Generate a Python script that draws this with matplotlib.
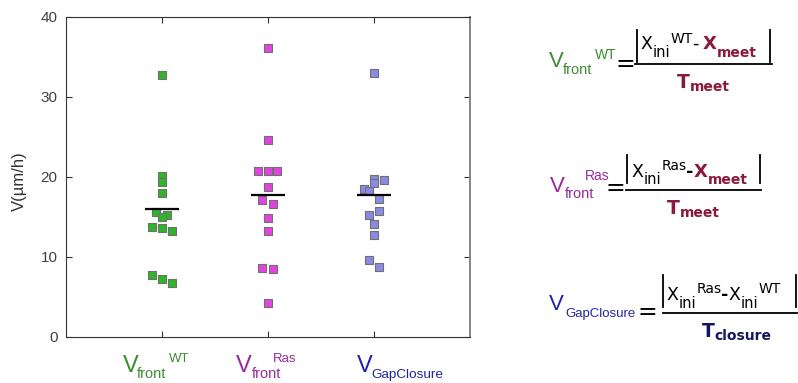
import matplotlib
matplotlib.use('Agg')
import matplotlib.pyplot as plt
from matplotlib.lines import Line2D

# values
wt_vals = [32.75, 20.1, 19.4, 18.0, 15.6, 15.25, 14.95, 13.75, 13.6, 13.3, 7.75, 7.25, 6.75]
wt_dx = [0, 0, 0, 0, -0.05, 0.05, 0, -0.088, 0, 0.097, -0.088, 0, 0.097]
ras_vals = [36.1, 24.6, 20.75, 20.75, 20.75, 18.8, 17.1, 16.6, 14.9, 13.25, 8.6, 8.45, 4.25]
ras_dx = [0, 0, -0.091, 0, 0.088, 0, -0.053, 0.047, 0, 0, -0.053, 0.047, 0]
gap_vals = [32.95, 19.7, 19.6, 19.2, 18.5, 18.3, 17.25, 15.7, 15.3, 14.1, 12.7, 9.6, 8.8]
gap_dx = [0, 0, 0.091, 0, -0.094, -0.047, 0.047, 0.047, -0.047, 0, 0, -0.047, 0.047]
means = [16.0, 17.75, 17.7]
yticks = [0, 10, 20, 30, 40]

marker_cols = ['#30b52a', '#e244de', '#8a8ae6']
green, magenta, blue = '#3c8d2f', '#99299c', '#2222a6'
red = '#8b1a3a'
navy = '#151562'

W, H = 798, 383
fig = plt.figure(figsize=(W / 100, H / 100), dpi=100)
ax = fig.add_axes([66 / W, 1 - 337 / H, 404 / W, 320 / H])

groups = [(wt_vals, wt_dx), (ras_vals, ras_dx), (gap_vals, gap_dx)]
for i, (vals, dx) in enumerate(groups):
    ax.scatter([i + 1 + d for d in dx], vals, marker='s', s=28, c=marker_cols[i],
               edgecolors='#707070', linewidths=0.8, zorder=3)
    ax.hlines(means[i], i + 1 - 0.16, i + 1 + 0.16, color='black', lw=1.6, zorder=4)

ax.set_xlim(0.1, 3.9)
ax.set_ylim(0, 40)
ax.set_xticks([1, 2, 3])
ax.set_xticklabels([])
ax.set_yticks(yticks)
ax.set_yticklabels([str(v) for v in yticks], family='Liberation Sans', fontsize=11, color='#404040')
ax.tick_params(direction='in', length=4, top=True, right=True, color='#333333', pad=6)
for s in ['left', 'top', 'bottom']:
    ax.spines[s].set_color('#333333')
ax.spines['right'].set_color('#858585')
ax.spines['right'].set_linewidth(1.4)
fig.text(19 / W, 1 - 181 / H, 'V(µm/h)', rotation=90, ha='center', va='center',
         family='Liberation Sans', fontsize=12, color='#333333')

rend = fig.canvas.get_renderer()


def txt(x, y, s, size, color, bold=False, fam='Liberation Sans'):
    # x, y in pixels from top-left, y is the baseline
    t = fig.text(x / W, 1 - y / H, s, fontsize=size, color=color, ha='left', va='baseline',
                 fontweight='bold' if bold else 'normal', family=fam)
    return t.get_window_extent(rend).x1


def bar(x0, x1, y0, y1, lw=1.3):
    fig.add_artist(Line2D([x0 / W, x1 / W], [1 - y0 / H, 1 - y1 / H], color='black', lw=lw))


# category labels under the axis
txt(122.7, 371.7, 'V', 17, green)
txt(136.7, 378.3, 'front', 10.5, green)
txt(169.3, 362.3, 'WT', 9.5, green)
txt(236, 371.5, 'V', 17, magenta)
txt(251.7, 378.3, 'front', 10.5, magenta)
txt(273.3, 361.5, 'Ras', 9.5, magenta)
txt(357.3, 371.7, 'V', 17, blue)
txt(371.7, 378.3, 'GapClosure', 9.7, blue)

DJ = 'DejaVu Sans'

# formula 1
txt(549, 66.7, 'V', 16, green)
txt(563, 74, 'front', 10.5, green)
txt(595, 59, 'WT', 10, green)
txt(615, 71, '=', 17, 'black', fam=DJ)
bar(636.7, 636.7, 30, 61.7)
bar(770, 770, 30, 61.7)
bar(635, 772, 64.3, 64.3)
x = txt(640.7, 49, 'X', 12.5, 'black', fam=DJ)
x = txt(x, 57, 'ini', 10.5, 'black', fam=DJ)
x = txt(x, 43, 'WT', 10, 'black', fam=DJ)
x = txt(x, 49, '-', 12.5, 'black', fam=DJ)
x = txt(x + 4, 49, 'X', 13, red, True, DJ)
txt(x, 57, 'meet', 10, red, True, DJ)
x = txt(677, 88, 'T', 13.5, red, True, DJ)
txt(x, 91, 'meet', 10, red, True, DJ)

# formula 2
txt(550, 191.7, 'V', 16, magenta)
txt(565, 198.3, 'front', 10.5, magenta)
txt(585, 179.5, 'Ras', 10, magenta)
txt(606, 195, '=', 17, 'black', fam=DJ)
bar(626.7, 626.7, 155, 183.3)
bar(760, 760, 155, 183.3)
bar(626, 761, 190, 190)
x = txt(631.7, 176.7, 'X', 12.5, 'black', fam=DJ)
x = txt(x, 184, 'ini', 10.5, 'black', fam=DJ)
x = txt(x, 170, 'Ras', 10, 'black', fam=DJ)
x = txt(x, 176.7, '-', 12.5, 'black', True, DJ)
x = txt(x, 176.7, 'X', 13, red, True, DJ)
txt(x, 184, 'meet', 10, red, True, DJ)
x = txt(666.7, 214, 'T', 13.5, red, True, DJ)
txt(x, 217, 'meet', 10, red, True, DJ)

# formula 3
txt(549, 310, 'V', 16, blue)
txt(565, 317.3, 'GapClosure', 9.5, blue)
txt(637, 319, '=', 17, 'black', fam=DJ)
bar(663, 663, 275, 307)
bar(796, 796, 275, 307)
bar(663, 797, 313, 313)
x = txt(666.7, 300, 'X', 12.5, 'black', fam=DJ)
x = txt(x, 307.5, 'ini', 10.5, 'black', fam=DJ)
x = txt(x, 293, 'Ras', 10, 'black', fam=DJ)
x = txt(x, 300, '-', 12.5, 'black', True, DJ)
x = txt(x, 300, 'X', 12.5, 'black', fam=DJ)
x = txt(x, 307.5, 'ini', 10.5, 'black', fam=DJ)
txt(x, 293, 'WT', 10, 'black', fam=DJ)
x = txt(701.7, 336.7, 'T', 13.5, navy, True, DJ)
txt(x, 339.5, 'closure', 10, navy, True, DJ)

fig.savefig('out.png', dpi=100)
